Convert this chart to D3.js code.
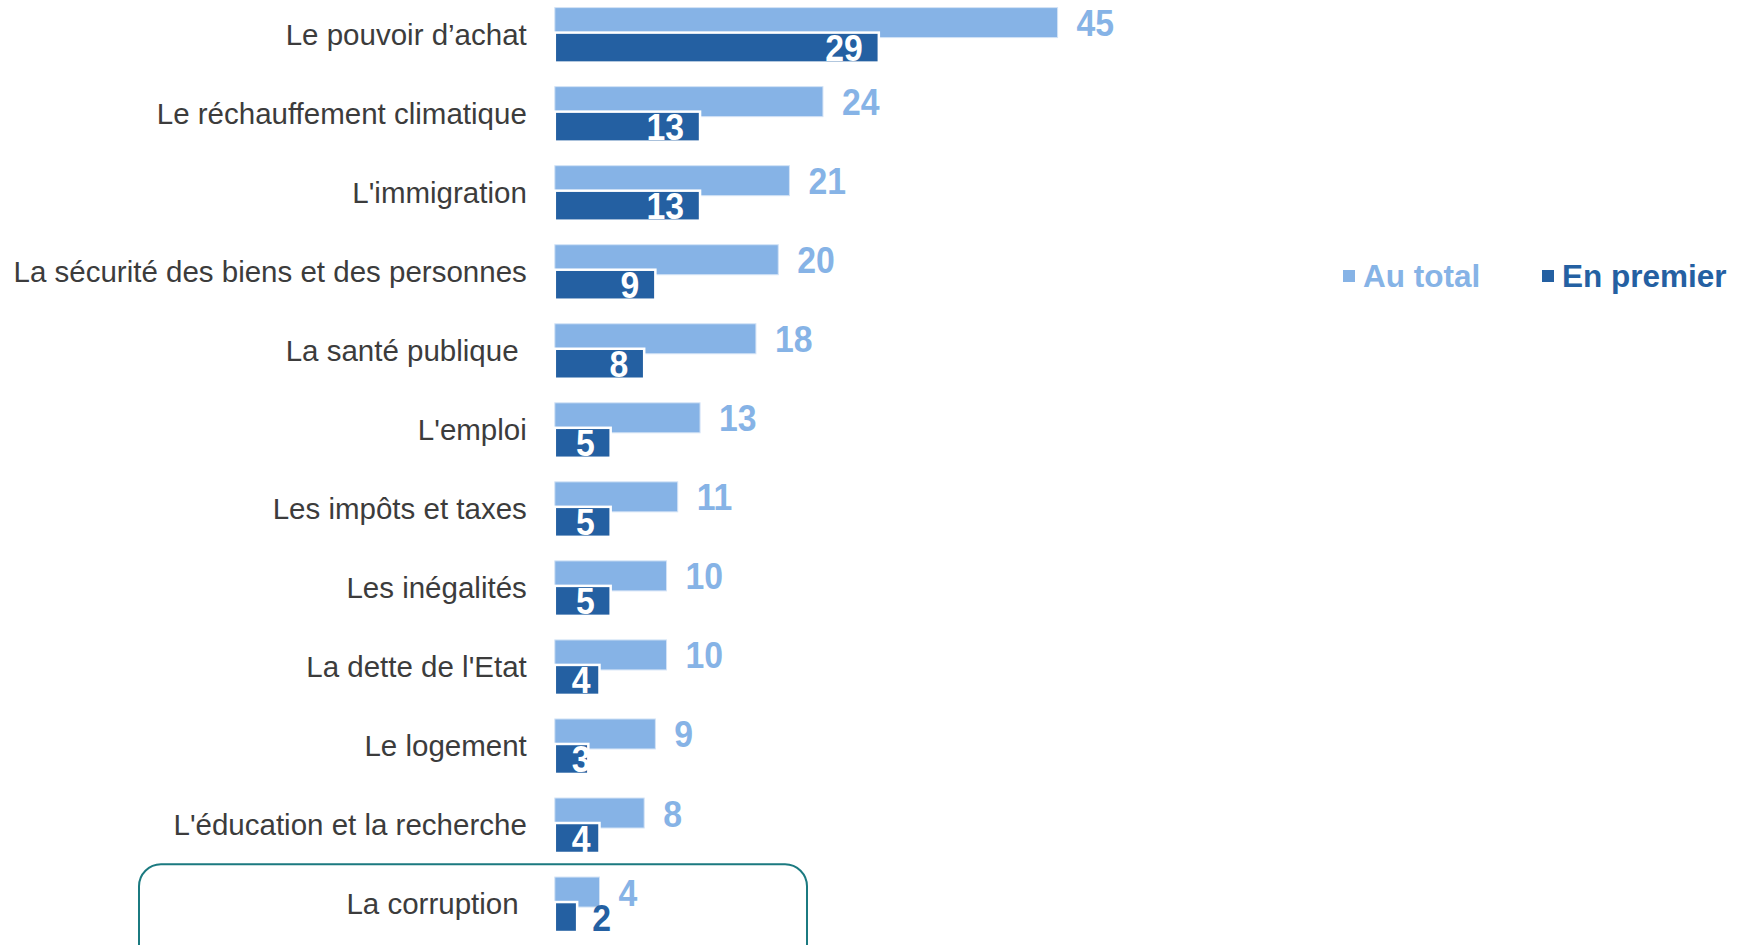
<!DOCTYPE html>
<html>
<head>
<meta charset="utf-8">
<script src="https://cdn.jsdelivr.net/npm/d3@7"></script>
<style>
  body { margin: 0; background: #fff; }
  svg text { font-family: "Liberation Sans", Arial, sans-serif; }
</style>
</head>
<body>
<div id="chart"></div>
<script>
const categories = [
    "Le pouvoir d\u2019achat",
    "Le réchauffement climatique",
    "L'immigration",
    "La sécurité des biens et des personnes",
    "La santé publique\u00a0",
    "L'emploi",
    "Les impôts et taxes",
    "Les inégalités",
    "La dette de l'Etat",
    "Le logement",
    "L'éducation et la recherche",
    "La corruption\u00a0"
];
const auTotal   = [45, 24, 21, 20, 18, 13, 11, 10, 10, 9, 8, 4];
const enPremier = [29, 13, 13, 9, 8, 5, 5, 5, 4, 3, 4, 2];
const seriesNames = ["Au total", "En premier"];
const seriesColors = ["#86b3e6", "#2460a2"];

const width = 1739;
const height = 945;
const pitch = 79.04;
const squeeze = 0.9; // value labels are a bit narrow in the original

const svg = d3.select("#chart")
    .append("svg")
    .attr("width", width)
    .attr("height", height);

const x = d3.scaleLinear().domain([0, 45]).range([554.8, 1057.6]);

const y = d3.scaleBand()
    .domain(categories)
    .range([-5.2, -5.2 + pitch * categories.length]);

// two overlapping bars inside each row
const y1 = d3.scaleBand()
    .domain(seriesNames)
    .range([12.8, 67.8])
    .paddingInner(-0.2);

const rows = categories.map((c, i) => ({ cat: c, total: auTotal[i], first: enPremier[i], i: i }));

// highlight box around the last row
const last = categories[categories.length - 1];
svg.append("rect")
    .attr("x", 139)
    .attr("y", y(last))
    .attr("width", 668)
    .attr("height", 120)
    .attr("rx", 22)
    .attr("fill", "none")
    .attr("stroke", "#1b7a80")
    .attr("stroke-width", 2);

// category labels
svg.selectAll(".cat")
    .data(rows)
    .enter().append("text")
    .attr("class", "cat")
    .attr("x", 526.8)
    .attr("y", d => y(d.cat) + y.bandwidth() / 2)
    .attr("dy", "0.35em")
    .attr("text-anchor", "end")
    .attr("font-size", 29.5)
    .attr("fill", "#3c3c3c")
    .text(d => d.cat);

// light bars
svg.selectAll(".bar-total")
    .data(rows)
    .enter().append("rect")
    .attr("class", "bar-total")
    .attr("x", x(0))
    .attr("y", d => y(d.cat) + y1("Au total"))
    .attr("width", d => x(d.total) - x(0))
    .attr("height", y1.bandwidth())
    .attr("fill", seriesColors[0])
    .attr("stroke", "#d3e3f6")
    .attr("stroke-width", 1);

// dark bars
svg.selectAll(".bar-first")
    .data(rows)
    .enter().append("rect")
    .attr("class", "bar-first")
    .attr("x", x(0))
    .attr("y", d => y(d.cat) + y1("En premier"))
    .attr("width", d => x(d.first) - x(0))
    .attr("height", y1.bandwidth())
    .attr("fill", seriesColors[1])
    .attr("stroke", "#fff")
    .attr("stroke-width", 2.5);

// clip paths for inner labels
const defs = svg.append("defs");
defs.selectAll("clipPath")
    .data(rows)
    .enter().append("clipPath")
    .attr("id", d => "clip" + d.i)
    .append("rect")
    .attr("x", x(0))
    .attr("y", d => y(d.cat) + y1("En premier"))
    .attr("width", d => x(d.first) - x(0))
    .attr("height", y1.bandwidth());

function valueLabel(sel, getX, getY, fill) {
    sel.append("text")
        .attr("transform", d => `translate(${getX(d)},${getY(d)}) scale(${squeeze},1)`)
        .attr("dy", "0.36em")
        .attr("font-size", 37.5)
        .attr("font-weight", "bold")
        .attr("fill", fill);
}

// total labels, outside end
const totalG = svg.selectAll(".lab-total")
    .data(rows)
    .enter().append("g")
    .attr("class", "lab-total");
valueLabel(totalG,
    d => x(d.total) + 19,
    d => y(d.cat) + y1("Au total") + y1.bandwidth() / 2,
    seriesColors[0]);
totalG.select("text").text(d => d.total);

// first labels: inside end (white) or outside when the bar is too short
const inner = rows.filter(d => d.first >= 3);
const outer = rows.filter(d => d.first < 3);

const innerG = svg.selectAll(".lab-first")
    .data(inner)
    .enter().append("g")
    .attr("class", "lab-first")
    .attr("clip-path", d => `url(#clip${d.i})`);
innerG.append("text")
    .attr("dy", "0.36em")
    .attr("font-size", 37.5)
    .attr("font-weight", "bold")
    .attr("fill", "#fff")
    .text(d => d.first)
    .each(function (d) {
        const w = this.getComputedTextLength() * squeeze;
        const xs = Math.max(x(d.first) - 16 - w, x(0) + 17);
        const ys = y(d.cat) + y1("En premier") + y1.bandwidth() / 2;
        d3.select(this).attr("transform", `translate(${xs},${ys}) scale(${squeeze},1)`);
    });

const outerG = svg.selectAll(".lab-first-out")
    .data(outer)
    .enter().append("g")
    .attr("class", "lab-first-out");
valueLabel(outerG,
    d => x(d.first) + 15,
    d => y(d.cat) + y1("En premier") + y1.bandwidth() / 2,
    seriesColors[1]);
outerG.select("text").text(d => d.first);

// legend
const legendX = [1343, 1542];
const legend = svg.selectAll(".legend")
    .data(seriesNames)
    .enter().append("g")
    .attr("class", "legend")
    .attr("transform", (d, i) => `translate(${legendX[i]},276)`);

legend.append("rect")
    .attr("x", 0)
    .attr("y", -6)
    .attr("width", 12)
    .attr("height", 12)
    .attr("fill", (d, i) => seriesColors[i]);

legend.append("text")
    .attr("x", 20)
    .attr("y", 0)
    .attr("dy", "0.36em")
    .attr("font-size", 31.5)
    .attr("font-weight", "bold")
    .attr("fill", (d, i) => seriesColors[i])
    .text(d => d);
</script>
</body>
</html>
